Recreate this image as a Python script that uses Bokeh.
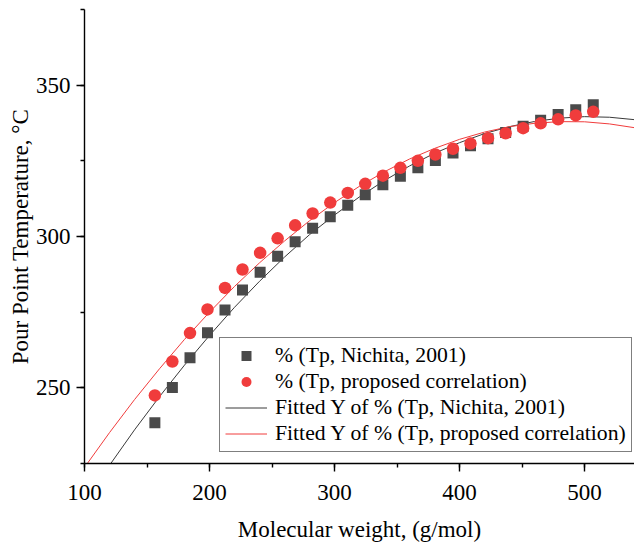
from bokeh.plotting import figure
from bokeh.models import (Range1d, SingleIntervalTicker, Legend, LegendItem)
from bokeh.embed import file_html
from bokeh.resources import INLINE

# --- data ---
mw = [156.3, 170.3, 184.4, 198.4, 212.4, 226.4, 240.5, 254.5, 268.5, 282.5,
      296.6, 310.6, 324.6, 338.7, 352.7, 366.7, 380.7, 394.8, 408.8, 422.8,
      436.9, 450.9, 464.9, 478.9, 493.0, 507.0]
tp_nichita = [238.5, 250.1, 259.9, 268.2, 275.7, 282.3, 288.2, 293.5, 298.3, 302.7,
              306.5, 310.3, 313.8, 317.1, 319.9, 322.7, 325.1, 327.6, 330.0, 332.3,
              334.4, 336.4, 338.4, 340.3, 341.9, 343.5]
tp_proposed = [247.5, 258.7, 268.1, 275.9, 283.0, 289.1, 294.6, 299.4, 303.7, 307.6,
               311.2, 314.4, 317.4, 320.1, 322.7, 325.0, 327.1, 329.0, 330.7, 332.5,
               334.1, 335.8, 337.4, 338.7, 340.0, 341.2]

fit_x = [100, 120, 140, 160, 180, 200, 220, 240, 260, 280, 300, 320, 340,
         360, 380, 400, 420, 440, 460, 480, 500, 520, 540, 560]
fit_nichita = [210.4, 224.4, 236.1, 247.1, 257.5, 267.3, 276.6, 285.2, 293.2, 300.6,
               307.1, 313.1, 318.5, 323.3, 327.5, 331.0, 334.0, 336.3, 338.0, 339.1,
               339.6, 339.4, 338.6, 337.2]
fit_proposed = [223.7, 235.2, 246.1, 256.3, 266.0, 275.0, 283.5, 291.3, 298.5, 305.2,
                311.2, 316.6, 321.4, 325.6, 329.1, 332.1, 334.5, 336.3, 337.4, 337.95,
                337.9, 337.2, 335.95, 334.1]

x_title = "Molecular weight, (g/mol)"
y_title = "Pour Point Temperature, \u00b0C"
labels = ["% (Tp, Nichita, 2001)", "% (Tp, proposed correlation)",
          "Fitted Y of % (Tp, Nichita, 2001)", "Fitted Y of % (Tp, proposed correlation)"]

FONT = "Liberation Serif"
SQ_COLOR = "#4a4a4a"
RED = "#f03c3c"

p = figure(width=634, height=548, output_backend="svg", toolbar_location=None,
           x_range=Range1d(100, 540), y_range=Range1d(225, 375),
           min_border_left=84, min_border_top=9, min_border_right=0, min_border_bottom=85)
p.outline_line_color = None
p.xgrid.visible = False
p.ygrid.visible = False
p.background_fill_color = "white"
p.border_fill_color = "white"

ln1 = p.line(fit_x, fit_nichita, line_color="#3a3a3a", line_width=1)
ln2 = p.line(fit_x, fit_proposed, line_color=RED, line_width=1)
sq = p.scatter(mw, tp_nichita, marker="square", size=11, fill_color=SQ_COLOR, line_color=None)
ci = p.scatter(mw, tp_proposed, marker="circle", size=12.5, fill_color=RED, line_color=None)

for ax in (p.xaxis[0], p.yaxis[0]):
    ax.axis_line_width = 1.4
    ax.axis_line_color = "black"
    ax.major_tick_line_color = "black"
    ax.minor_tick_line_color = "black"
    ax.major_tick_line_width = 1.4
    ax.minor_tick_line_width = 1.4
    ax.major_tick_in = 0
    ax.minor_tick_in = 0
    ax.major_tick_out = 8
    ax.minor_tick_out = 4
    ax.major_label_text_font = FONT
    ax.major_label_text_font_size = "23px"
    ax.major_label_text_font_style = "normal"
    ax.major_label_text_color = "black"
    ax.axis_label_text_font = FONT
    ax.axis_label_text_font_size = "23px"
    ax.axis_label_text_font_style = "normal"
    ax.axis_label_text_color = "black"

p.xaxis.ticker = SingleIntervalTicker(interval=100, num_minor_ticks=2)
p.yaxis.ticker = SingleIntervalTicker(interval=50, num_minor_ticks=2)
p.xaxis.axis_label = x_title
p.yaxis.axis_label = y_title
p.xaxis.major_label_standoff = 13
p.xaxis.axis_label_standoff = 14
p.yaxis.major_label_standoff = 6
p.yaxis.axis_label_standoff = 0

legend = Legend(items=[
    LegendItem(label=labels[0], renderers=[sq]),
    LegendItem(label=labels[1], renderers=[ci]),
    LegendItem(label=labels[2], renderers=[ln1]),
    LegendItem(label=labels[3], renderers=[ln2]),
], location=(135, 11))
legend.border_line_color = "black"
legend.border_line_width = 1
legend.background_fill_alpha = 1
legend.label_text_font = FONT
legend.label_text_font_size = "21.7px"
legend.label_text_font_style = "normal"
legend.label_text_color = "black"
legend.padding = 5
legend.spacing = 1
legend.glyph_height = 25
legend.label_height = 25
legend.glyph_width = 42
legend.label_standoff = 8
legend.margin = 0
p.add_layout(legend, "center")

open("out.html", "w").write(file_html(p, INLINE))
